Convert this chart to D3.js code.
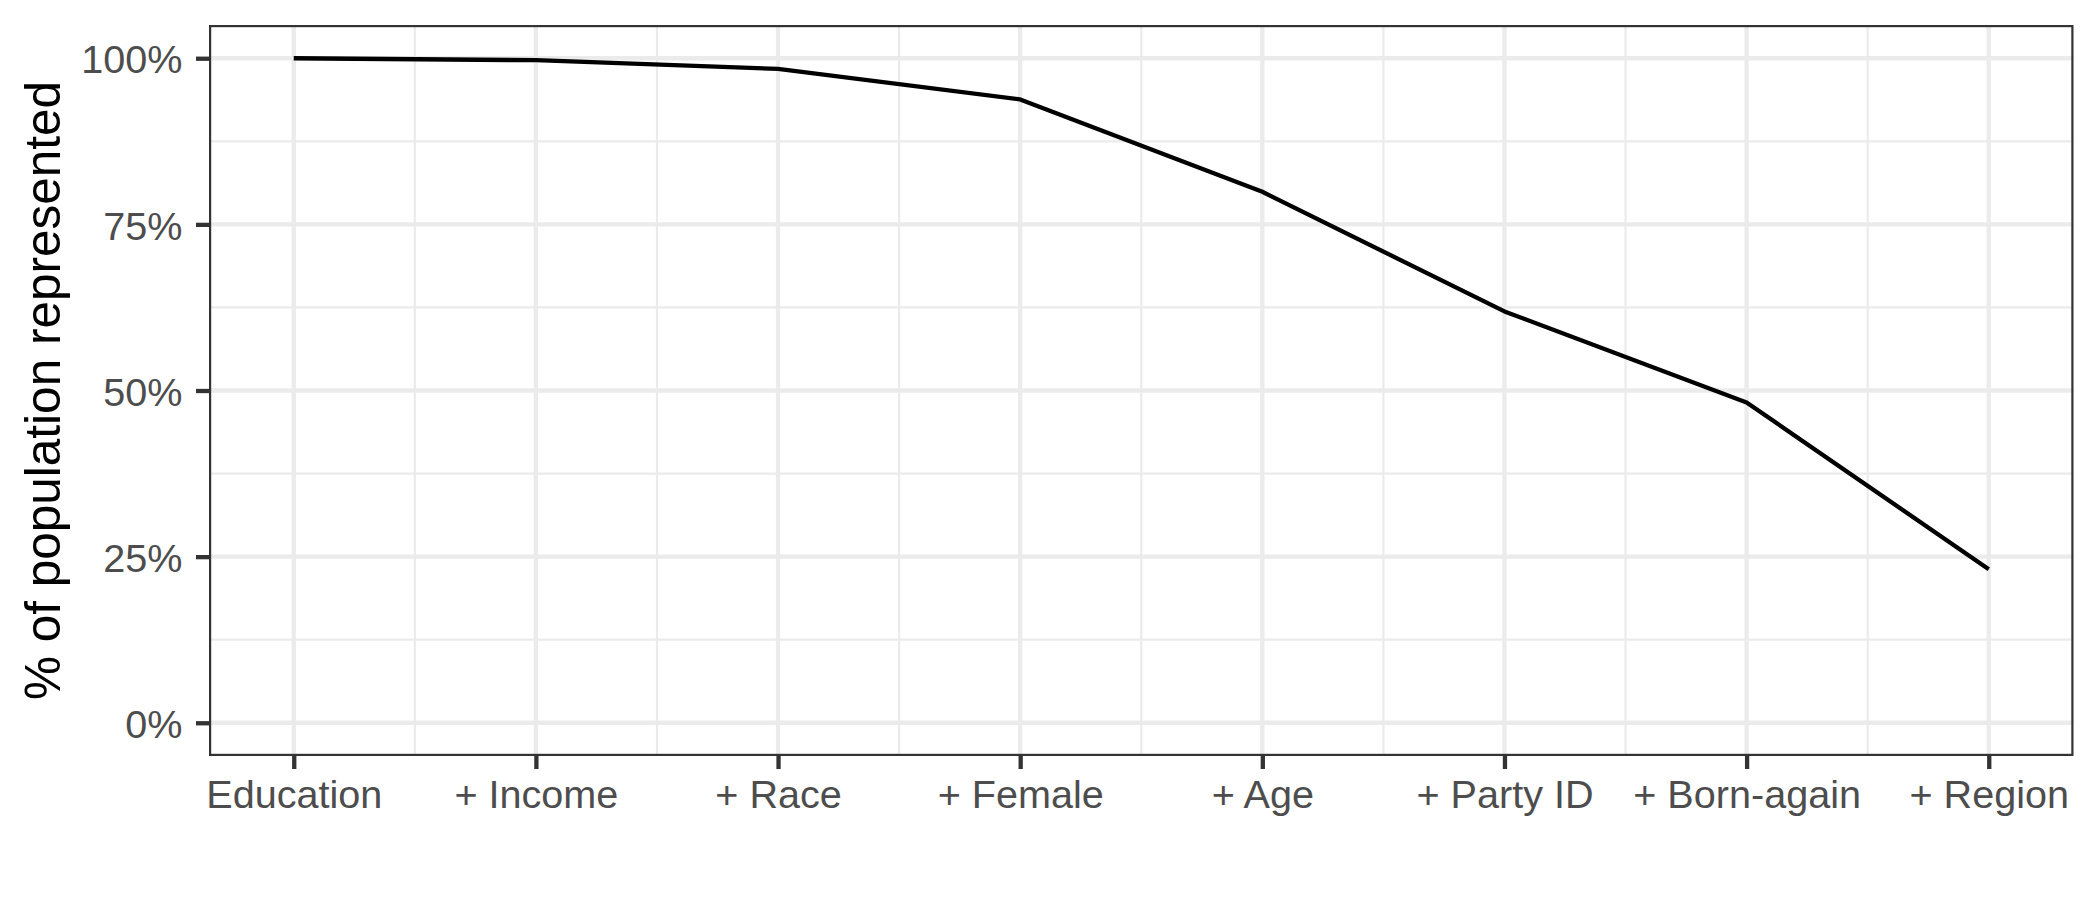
<!DOCTYPE html>
<html>
<head>
<meta charset="utf-8">
<script src="https://cdn.jsdelivr.net/npm/d3@7"></script>
<style>
  html, body { margin: 0; padding: 0; background: #fff; }
  svg { display: block; }
  text { font-family: "Liberation Sans", Arial, Helvetica, sans-serif; }
</style>
</head>
<body>
<script>
const categories = ["Education", "+ Income", "+ Race", "+ Female", "+ Age", "+ Party ID", "+ Born-again", "+ Region"];
const values = [1.000, 0.997, 0.984, 0.938, 0.799, 0.619, 0.482, 0.231];
const yTicks = [0, 0.25, 0.5, 0.75, 1];
const yMinor = [0.125, 0.375, 0.625, 0.875];
const yTickLabels = ["0%", "25%", "50%", "75%", "100%"];

const W = 2100, H = 900;
const panel = { left: 209, right: 2073.5, top: 25, bottom: 756 };

const svg = d3.select("body").append("svg").attr("width", W).attr("height", H);
svg.append("rect").attr("width", W).attr("height", H).attr("fill", "#fff");

const n = categories.length;
const x = d3.scaleLinear().domain([-0.35, (n - 1) + 0.35]).range([panel.left, panel.right]);
const y = d3.scaleLinear().domain([-0.05, 1.05]).range([panel.bottom, panel.top]);

const idx = d3.range(n);
const xMinor = d3.range(n - 1).map(i => i + 0.5);

const g = svg.append("g");
// minor grid
g.selectAll(".ymin").data(yMinor).join("line")
  .attr("x1", panel.left).attr("x2", panel.right)
  .attr("y1", d => y(d)).attr("y2", d => y(d))
  .attr("stroke", "#EBEBEB").attr("stroke-width", 2.2);
g.selectAll(".xmin").data(xMinor).join("line")
  .attr("y1", panel.top).attr("y2", panel.bottom)
  .attr("x1", d => x(d)).attr("x2", d => x(d))
  .attr("stroke", "#EBEBEB").attr("stroke-width", 2.2);
// major grid
g.selectAll(".ymaj").data(yTicks).join("line")
  .attr("x1", panel.left).attr("x2", panel.right)
  .attr("y1", d => y(d)).attr("y2", d => y(d))
  .attr("stroke", "#EBEBEB").attr("stroke-width", 4.3);
g.selectAll(".xmaj").data(idx).join("line")
  .attr("y1", panel.top).attr("y2", panel.bottom)
  .attr("x1", d => x(d)).attr("x2", d => x(d))
  .attr("stroke", "#EBEBEB").attr("stroke-width", 4.3);

// data line
const line = d3.line().x((d, i) => x(i)).y(d => y(d));
svg.append("path").datum(values)
  .attr("d", line)
  .attr("fill", "none")
  .attr("stroke", "#000")
  .attr("stroke-width", 4.3)
  .attr("stroke-linejoin", "round");

// panel border
svg.append("rect")
  .attr("x", panel.left + 1.1).attr("y", panel.top + 1.1)
  .attr("width", panel.right - panel.left - 2.2)
  .attr("height", panel.bottom - panel.top - 2.2)
  .attr("fill", "none").attr("stroke", "#333333").attr("stroke-width", 2.2);

// axes
const fs = 39.6;
const xAxis = d3.axisBottom(x).tickValues(idx).tickFormat(i => categories[i]).tickSize(13).tickPadding(0);
const gx = svg.append("g").attr("transform", `translate(0,${panel.bottom})`).call(xAxis);
gx.select(".domain").remove();
gx.selectAll(".tick line").attr("stroke", "#333333").attr("stroke-width", 4.3);
gx.selectAll(".tick text")
  .attr("y", 52.3).attr("dy", null)
  .attr("fill", "#4D4D4D").attr("font-size", fs)
  .attr("font-family", '"Liberation Sans", Arial, Helvetica, sans-serif');

const yAxis = d3.axisLeft(y).tickValues(yTicks).tickFormat((d, i) => yTickLabels[i]).tickSize(13).tickPadding(0);
const gy = svg.append("g").attr("transform", `translate(${panel.left},0)`).call(yAxis);
gy.select(".domain").remove();
gy.selectAll(".tick line").attr("stroke", "#333333").attr("stroke-width", 4.3);
gy.selectAll(".tick text")
  .attr("x", -26.5).attr("dy", "0.37em")
  .attr("fill", "#4D4D4D").attr("font-size", fs)
  .attr("font-family", '"Liberation Sans", Arial, Helvetica, sans-serif');

// y title
svg.append("text")
  .attr("transform", `translate(60,${(panel.top + panel.bottom) / 2}) rotate(-90)`)
  .attr("text-anchor", "middle")
  .attr("font-size", 49.5)
  .attr("fill", "#000")
  .text("% of population represented");
</script>
</body>
</html>
